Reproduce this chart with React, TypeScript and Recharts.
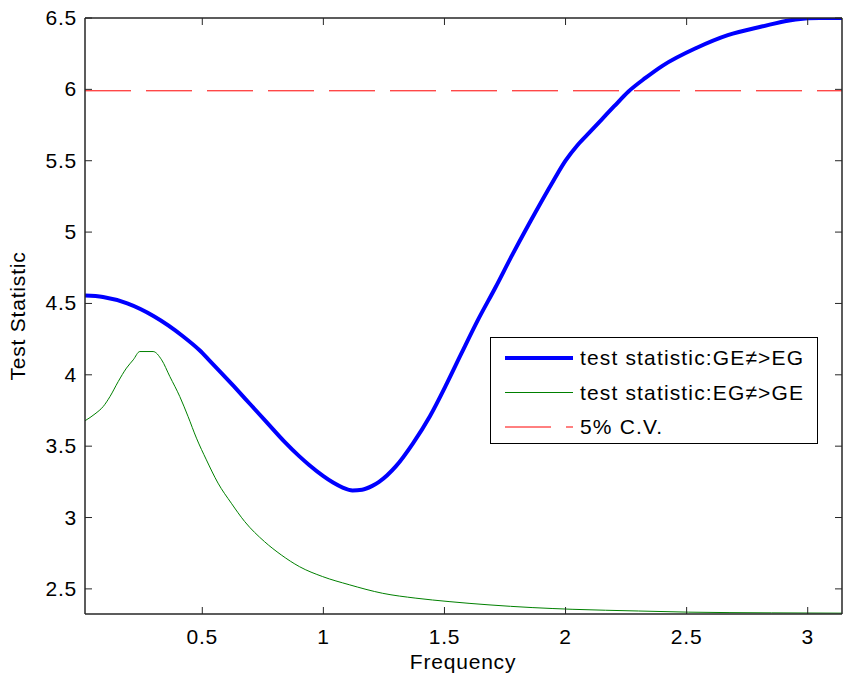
import React from 'react';
import {
  LineChart,
  Line,
  XAxis,
  YAxis,
  ReferenceLine,
  Legend,
} from 'recharts';

// frequency grid and values
const geFreq = [
  0.0157, 0.09, 0.19, 0.3, 0.42, 0.49, 0.53, 0.63, 0.7, 0.77, 0.84, 0.9, 0.94, 1.0, 1.04, 1.08,
  1.12, 1.16, 1.2, 1.23, 1.3, 1.37, 1.44, 1.51, 1.57, 1.64, 1.71, 1.78, 1.85, 1.95, 2.0, 2.05,
  2.1, 2.15, 2.2, 2.26, 2.33, 2.4, 2.54, 2.67, 2.81, 2.95, 3.05, 3.1416,
];
const geStat = [
  4.555, 4.545, 4.5, 4.41, 4.27, 4.17, 4.1, 3.92, 3.79, 3.66, 3.53, 3.43, 3.37, 3.29, 3.245, 3.21,
  3.19, 3.195, 3.22, 3.25, 3.36, 3.52, 3.71, 3.94, 4.15, 4.39, 4.61, 4.84, 5.06, 5.36, 5.5, 5.61,
  5.7, 5.79, 5.88, 5.985, 6.08, 6.165, 6.29, 6.38, 6.44, 6.49, 6.5, 6.5,
];

const egFreq = [
  0.0157, 0.057, 0.091, 0.119, 0.153, 0.187, 0.215, 0.242, 0.297, 0.332, 0.366, 0.407, 0.441, 0.476,
  0.517, 0.565, 0.62, 0.675, 0.757, 0.826, 0.901, 0.997, 1.107, 1.245, 1.382, 1.519, 1.684, 1.862,
  2.027, 2.302, 2.508, 2.85, 3.1416,
];
const egStat = [
  3.678, 3.726, 3.778, 3.848, 3.953, 4.047, 4.105, 4.163, 4.163, 4.105, 3.988, 3.848, 3.709, 3.556,
  3.404, 3.241, 3.1, 2.972, 2.831, 2.738, 2.656, 2.586, 2.529, 2.469, 2.435, 2.411, 2.388, 2.369,
  2.357, 2.345, 2.337, 2.332, 2.33,
];

const criticalValue = 5.99;

const xTicks = [0.5, 1, 1.5, 2, 2.5, 3];
const yTicks = [2.5, 3, 3.5, 4, 4.5, 5, 5.5, 6, 6.5];

const legendItems = [
  { label: 'test statistic:GE\u2260>EG', color: '#0000ff', width: 4, dash: undefined },
  { label: 'test statistic:EG\u2260>GE', color: '#008000', width: 1, dash: undefined },
  { label: '5% C.V.', color: '#ff0000', width: 1, dash: '46 15' },
];

const geData = geFreq.map((f, i) => ({ f, v: geStat[i] }));
const egData = egFreq.map((f, i) => ({ f, v: egStat[i] }));

const FONT = '"Liberation Sans", Arial, Helvetica, sans-serif';
const AXIS = '#262626';
const TICK = 7;

const BottomTick = ({ x, y, payload }: any) => (
  <g>
    <line x1={x} y1={y} x2={x} y2={y - TICK} stroke={AXIS} strokeWidth={1} />
    <text x={x} y={y + 30} textAnchor="middle" fontSize={21} letterSpacing={0.8} fill="#000" fontFamily={FONT}>
      {String(payload.value)}
    </text>
  </g>
);

const TopTick = ({ x, y }: any) => (
  <line x1={x} y1={y} x2={x} y2={y + TICK} stroke={AXIS} strokeWidth={1} />
);

const LeftTick = ({ x, y, payload }: any) => (
  <g>
    <line x1={x} y1={y} x2={x + TICK} y2={y} stroke={AXIS} strokeWidth={1} />
    <text x={x - 8} y={y + 7} textAnchor="end" fontSize={21} letterSpacing={0.8} fill="#000" fontFamily={FONT}>
      {String(payload.value)}
    </text>
  </g>
);

const RightTick = ({ x, y }: any) => (
  <line x1={x} y1={y} x2={x - TICK} y2={y} stroke={AXIS} strokeWidth={1} />
);

const LegendBox = () => (
  <svg width={328} height={107} style={{ display: 'block' }}>
    <rect x={0.5} y={0.5} width={327} height={106} fill="#fff" stroke="#000" strokeWidth={1} />
    {legendItems.map((item, i) => {
      const cy = 21 + i * 34.5;
      return (
        <g key={item.label}>
          <line
            x1={15}
            y1={cy}
            x2={83}
            y2={cy}
            stroke={item.color}
            strokeWidth={item.width}
            strokeDasharray={item.dash}
          />
          <text x={90} y={cy + 7} fontSize={21} letterSpacing={1.15} fill="#000" fontFamily={FONT}>
            {item.label}
          </text>
        </g>
      );
    })}
  </svg>
);

export default function App() {
  return (
    <div style={{ position: 'absolute', left: 0, top: 0, width: 844, height: 679, background: '#fff' }}>
      <LineChart width={844} height={679} margin={{ top: 0, right: 0, left: 0, bottom: 0 }}>
        <XAxis
          xAxisId="bottom"
          type="number"
          dataKey="f"
          domain={[0.0157, Math.PI]}
          ticks={xTicks}
          allowDataOverflow
          height={65}
          tickSize={0}
          tickMargin={0}
          tickLine={false}
          axisLine={{ stroke: AXIS, strokeWidth: 1.5 }}
          tick={<BottomTick />}
          interval={0}
        />
        <XAxis
          xAxisId="top"
          orientation="top"
          type="number"
          dataKey="f"
          domain={[0.0157, Math.PI]}
          ticks={xTicks}
          allowDataOverflow
          height={18}
          tickSize={0}
          tickMargin={0}
          tickLine={false}
          axisLine={{ stroke: AXIS, strokeWidth: 1.5 }}
          tick={<TopTick />}
          interval={0}
        />
        <YAxis
          yAxisId="left"
          type="number"
          domain={[2.324, 6.5]}
          ticks={yTicks}
          allowDataOverflow
          width={85}
          tickSize={0}
          tickMargin={0}
          tickLine={false}
          axisLine={{ stroke: AXIS, strokeWidth: 1.5 }}
          tick={<LeftTick />}
          interval={0}
        />
        <YAxis
          yAxisId="right"
          orientation="right"
          type="number"
          domain={[2.324, 6.5]}
          ticks={yTicks}
          allowDataOverflow
          width={2}
          tickSize={0}
          tickMargin={0}
          tickLine={false}
          axisLine={{ stroke: AXIS, strokeWidth: 1.5 }}
          tick={<RightTick />}
          interval={0}
        />
        <ReferenceLine
          xAxisId="bottom"
          yAxisId="left"
          y={criticalValue}
          stroke="#ff0000"
          strokeWidth={1}
          strokeDasharray="46 15"
        />
        <Line
          xAxisId="bottom"
          yAxisId="left"
          data={egData}
          dataKey="v"
          type="monotone"
          stroke="#008000"
          strokeWidth={1}
          dot={false}
          isAnimationActive={false}
        />
        <Line
          xAxisId="bottom"
          yAxisId="left"
          data={geData}
          dataKey="v"
          type="monotone"
          stroke="#0000ff"
          strokeWidth={4}
          dot={false}
          isAnimationActive={false}
        />
        <Legend
          layout="horizontal"
          verticalAlign="middle"
          align="center"
          content={<LegendBox />}
          wrapperStyle={{ position: 'absolute', left: 490, top: 337, width: 328, height: 107 }}
        />
      </LineChart>
      <div
        style={{
          position: 'absolute',
          left: 463,
          top: 650,
          transform: 'translateX(-50%)',
          fontFamily: FONT,
          fontSize: 21,
          letterSpacing: 0.8,
          whiteSpace: 'nowrap',
        }}
      >
        Frequency
      </div>
      <div
        style={{
          position: 'absolute',
          left: 18,
          top: 316,
          transform: 'translate(-50%, -50%) rotate(-90deg)',
          fontFamily: FONT,
          fontSize: 21,
          letterSpacing: 0.8,
          whiteSpace: 'nowrap',
        }}
      >
        Test Statistic
      </div>
    </div>
  );
}
